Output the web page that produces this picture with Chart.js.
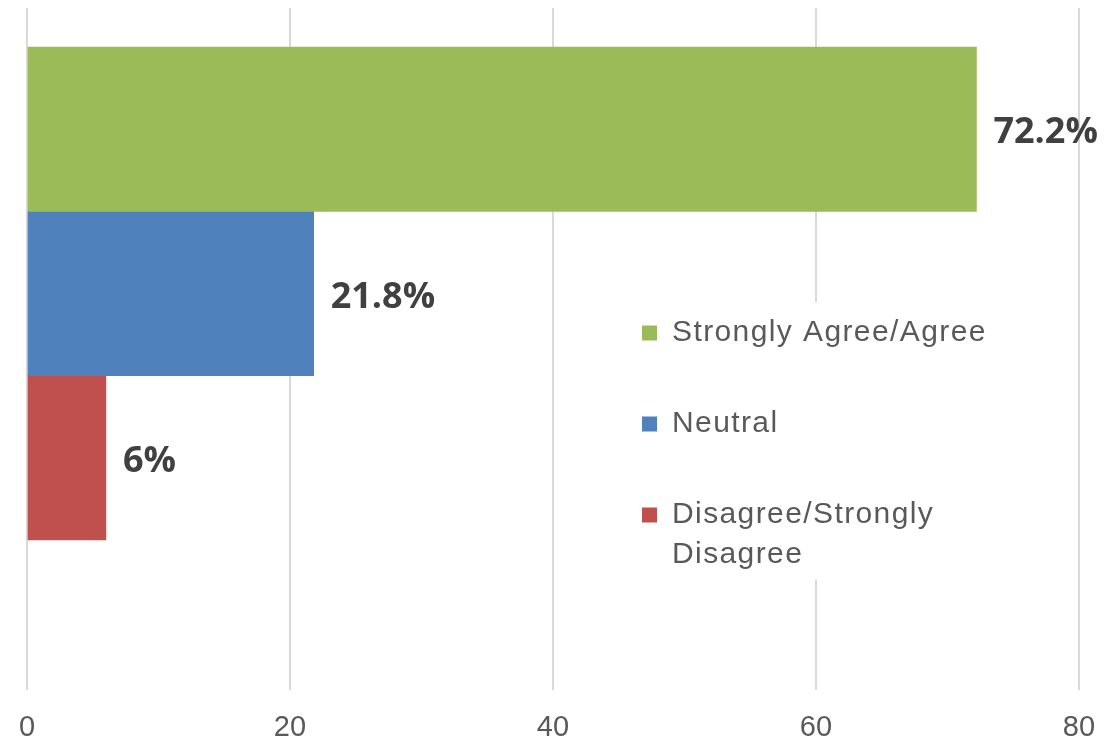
<!DOCTYPE html>
<html>
<head>
<meta charset="utf-8">
<title>Survey responses</title>
<script src="https://cdn.jsdelivr.net/npm/chart.js@4/dist/chart.umd.min.js"></script>
<style>
  html, body { margin: 0; padding: 0; background: #ffffff; }
  #wrap { width: 1104px; height: 742px; }
</style>
</head>
<body>
<div id="wrap"><canvas id="chart" width="1104" height="742"></canvas></div>
<script>
// Response groups, their shares (percent) and colours
const categories = ['Strongly Agree/Agree', 'Neutral', 'Disagree/Strongly\nDisagree'];
const values = [72.2, 21.8, 6];
const colors = ['#9BBB59', '#4F81BD', '#C0504D'];
// Row position of each bar on the hidden index axis (top to bottom)
const rows = [0, 1, 2];
// Value axis ticks
const xTicks = [0, 20, 40, 60, 80];

const datasets = categories.map((name, i) => ({
  label: name,
  data: [{ x: values[i], y: rows[i] }],
  backgroundColor: colors[i],
  borderWidth: 0,
  grouped: false,
  categoryPercentage: 1,
  barPercentage: 1
}));

// Percent labels at the end of each bar
const valueLabels = {
  id: 'valueLabels',
  afterDatasetsDraw(chart) {
    const ctx = chart.ctx;
    ctx.save();
    ctx.font = 'bold 36px "Open Sans", "Liberation Sans", sans-serif';
    ctx.fillStyle = '#404040';
    ctx.textAlign = 'left';
    ctx.textBaseline = 'middle';
    chart.data.datasets.forEach((ds, i) => {
      const el = chart.getDatasetMeta(i).data[0];
      if (!el) return;
      ctx.fillText(ds.data[0].x + '%', el.x + 17, el.y + 4);
    });
    ctx.restore();
  }
};

// Places the legend inside the plot, on a white panel
const legendPanel = {
  id: 'legendPanel',
  afterLayout(chart) {
    const lg = chart.legend;
    if (!lg) return;
    lg.left = 581; lg.top = 257; lg.right = 1060; lg.bottom = 670;
    lg.width = lg.right - lg.left; lg.height = lg.bottom - lg.top;
    if (!lg._panelWrapped) {
      const draw = lg.draw;
      lg.draw = function () {
        const ctx = this.ctx;
        ctx.save();
        ctx.fillStyle = '#ffffff';
        ctx.fillRect(636, 302, 372, 278);
        ctx.letterSpacing = '1.4px';
        draw.call(this);
        ctx.restore();
      };
      lg._panelWrapped = true;
    }
  }
};

new Chart(document.getElementById('chart'), {
  type: 'bar',
  data: { datasets },
  plugins: [valueLabels, legendPanel],
  options: {
    indexAxis: 'y',
    responsive: false,
    devicePixelRatio: 1,
    animation: false,
    layout: { padding: { left: 27, right: 24, top: 8, bottom: 0 } },
    scales: {
      x: {
        type: 'linear',
        position: 'bottom',
        min: xTicks[0],
        max: xTicks[xTicks.length - 1],
        afterBuildTicks(scale) { scale.ticks = xTicks.map(v => ({ value: v })); },
        afterFit(scale) {
          scale.height = 52;
          scale.paddingLeft = 0;
          scale.paddingRight = 0;
        },
        grid: { color: '#d9d9d9', lineWidth: 2, drawTicks: false },
        border: { display: false },
        ticks: {
          color: '#595959',
          padding: 23,
          font: { family: '"Liberation Sans", Arial, sans-serif', size: 29, lineHeight: 1 }
        }
      },
      y: {
        type: 'linear',
        reverse: true,
        display: false,
        offset: false,
        min: -0.7375,
        max: 3.4125,
        afterBuildTicks(scale) { scale.ticks = rows.map(v => ({ value: v })); }
      }
    },
    plugins: {
      tooltip: { enabled: false },
      legend: {
        position: 'right',
        align: 'start',
        maxWidth: 1,
        labels: {
          boxWidth: 15,
          boxHeight: 15,
          padding: 61,
          color: '#595959',
          textAlign: 'left',
          font: { family: '"Liberation Sans", Arial, sans-serif', size: 30, lineHeight: 40 / 30 },
          generateLabels(chart) {
            const items = Chart.defaults.plugins.legend.labels.generateLabels(chart);
            return items.map(it => {
              const parts = String(it.text).split('\n');
              it.text = parts.length > 1 ? parts : parts[0];
              return it;
            });
          }
        }
      }
    }
  }
});
</script>
</body>
</html>
